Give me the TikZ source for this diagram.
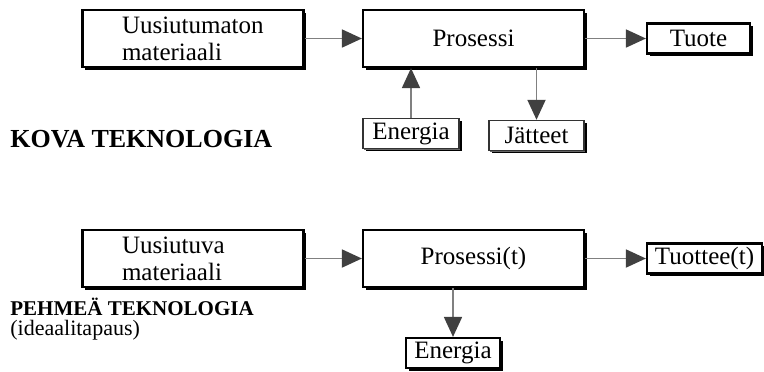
\documentclass[tikz,border=0pt]{standalone}
\usepackage{fontspec}
\setmainfont{Liberation Serif}
\usepackage{tikz}
\usetikzlibrary{arrows.meta,positioning,shadows}
\tikzset{
  box/.style={draw, line width=1.1pt, fill=white, inner sep=1pt, font=\fontsize{12.5}{13.5}\selectfont,
              drop shadow={shadow xshift=1.4pt, shadow yshift=-1.4pt, fill=black, opacity=1}},
  src/.style={box, minimum width=110.5pt, minimum height=28.5pt, text width=71pt, align=left},
  proc/.style={box, minimum width=110.5pt, minimum height=28.5pt},
  tag/.style={box, minimum height=15pt},
  lite/.style={tag, line width=0.7pt, draw=black!80, drop shadow={shadow xshift=0.7pt, shadow yshift=-0.7pt, fill=black!60, opacity=1}},
  flow/.style={-{Triangle[length=10pt, width=9pt, color=black!75]}, line width=0.9pt, draw=black!50},
  title/.style={inner sep=0pt, font=\bfseries\fontsize{13}{15}\selectfont},
  note/.style={inner sep=0pt, font=\fontsize{11}{13}\selectfont}
}

\begin{document}
\begin{tikzpicture}[x=0.5pt, y=-0.5pt]
\useasboundingbox (0,0) rectangle (764,371);
% kova teknologia
\node[src] (mat1) at (193,38.5) {Uusiutumaton\\materiaali};
\node[proc] (pros1) at (473.5,38.5) {Prosessi};
\node[tag, minimum width=51.5pt] (tuote) at (698.5,38.5) {Tuote};
\node[lite, minimum width=48pt] (ene1) at (411,133.5) {Energia};
\node[lite, minimum width=47.5pt] (jat) at (536.5,135.5) {Jätteet};
\node[title, anchor=west] (hard) at (10,139) {KOVA TEKNOLOGIA};
\draw[flow] (mat1) -- (pros1);
\draw[flow] (pros1) -- (tuote);
\draw[flow] (ene1) -- (ene1 |- pros1.south);
\draw[flow] (jat |- pros1.south) -- (jat);
% pehmea teknologia
\node[src] (mat2) at (193,258.5) {Uusiutuva\\materiaali};
\node[proc] (pros2) at (473.5,258.5) {Prosessi(t)};
\node[tag, minimum width=57.5pt] (tuote2) at (704.5,258.5) {Tuottee(t)};
\node[tag, minimum width=47pt] (ene2) at (453,353) {Energia};
\node[title, anchor=west, font=\bfseries\fontsize{10.5}{12}\selectfont] (soft) at (10,307) {PEHMEÄ TEKNOLOGIA};
\node[note, below=2pt of soft.south west, anchor=north west] (ideal) {(ideaalitapaus)};
\draw[flow] (mat2) -- (pros2);
\draw[flow] (pros2) -- (tuote2);
\draw[flow] (ene2 |- pros2.south) -- (ene2);
\end{tikzpicture}
\end{document}
